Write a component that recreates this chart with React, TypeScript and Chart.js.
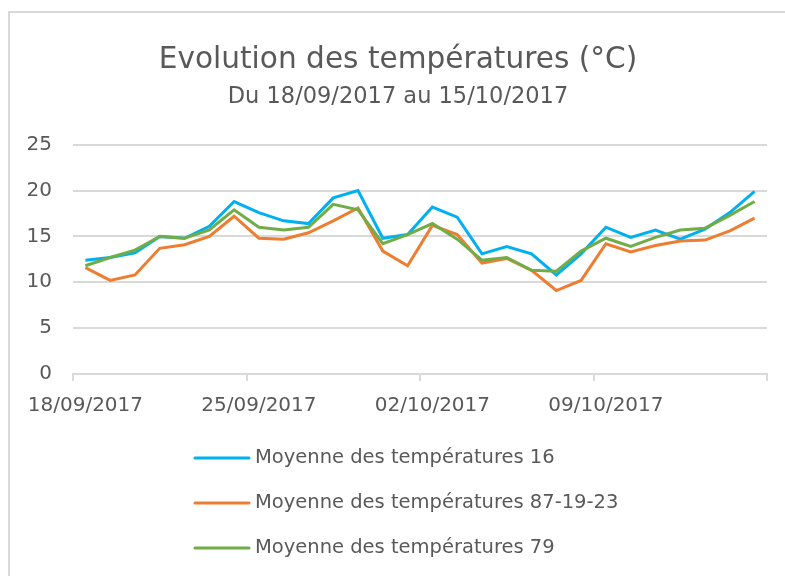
import React, { useEffect, useRef } from 'react';
import { Chart, registerables } from 'chart.js';

Chart.register(...registerables);

const dates = [
  '18/09/2017', '19/09/2017', '20/09/2017', '21/09/2017', '22/09/2017', '23/09/2017', '24/09/2017',
  '25/09/2017', '26/09/2017', '27/09/2017', '28/09/2017', '29/09/2017', '30/09/2017', '01/10/2017',
  '02/10/2017', '03/10/2017', '04/10/2017', '05/10/2017', '06/10/2017', '07/10/2017', '08/10/2017',
  '09/10/2017', '10/10/2017', '11/10/2017', '12/10/2017', '13/10/2017', '14/10/2017', '15/10/2017',
];

const seriesNames = [
  'Moyenne des températures 16',
  'Moyenne des températures 87-19-23',
  'Moyenne des températures 79',
];

const temp16 = [
  12.4, 12.7, 13.2, 15.0, 14.8, 16.1, 18.8, 17.6, 16.7, 16.4, 19.2, 20.0, 14.8, 15.2,
  18.2, 17.1, 13.1, 13.9, 13.1, 10.8, 13.1, 16.0, 14.9, 15.7, 14.7, 15.8, 17.6, 19.9,
];
const temp871923 = [
  11.6, 10.2, 10.8, 13.7, 14.1, 15.0, 17.2, 14.8, 14.7, 15.4, 16.7, 18.1, 13.4, 11.8,
  16.2, 15.2, 12.1, 12.6, 11.3, 9.1, 10.2, 14.2, 13.3, 14.0, 14.5, 14.6, 15.6, 17.0,
];
const temp79 = [
  11.8, 12.7, 13.5, 15.0, 14.8, 15.7, 17.9, 16.0, 15.7, 16.0, 18.5, 17.9, 14.2, 15.2,
  16.4, 14.7, 12.4, 12.7, 11.3, 11.2, 13.4, 14.8, 13.9, 14.9, 15.7, 15.9, 17.3, 18.8,
];

const yMin = 0;
const yMax = 25;
const yStep = 5;
const labelEvery = 7;

const seriesColors = ['#00B0F0', '#ED7D31', '#70AD47'];
const textColor = '#595959';
const gridColor = '#d9d9d9';
const FONT = 'DejaVu Sans';

const verticalLegend = {
  id: 'verticalLegend',
  afterDraw(chart: any) {
    const { ctx, chartArea } = chart;
    const x0 = chartArea.left + 122;
    const y0 = chartArea.bottom + 84;
    const rowGap = 45;
    ctx.save();
    ctx.font = `19.5px "${FONT}"`;
    ctx.textBaseline = 'middle';
    ctx.textAlign = 'left';
    chart.data.datasets.forEach((ds: any, i: number) => {
      const y = y0 + i * rowGap;
      ctx.strokeStyle = ds.borderColor;
      ctx.lineWidth = 3;
      ctx.lineCap = 'round';
      ctx.beginPath();
      ctx.moveTo(x0, y);
      ctx.lineTo(x0 + 54, y);
      ctx.stroke();
      ctx.fillStyle = textColor;
      ctx.fillText(ds.label, x0 + 60, y);
    });
    ctx.restore();
  },
};

export default function App() {
  const canvasRef = useRef<HTMLCanvasElement | null>(null);

  useEffect(() => {
    if (!canvasRef.current) return;
    Chart.defaults.font.family = FONT;
    Chart.defaults.color = textColor;
    const seriesData = [temp16, temp871923, temp79];
    const chart = new Chart(canvasRef.current, {
      type: 'line',
      data: {
        labels: dates,
        datasets: seriesData.map((d, i) => ({
          label: seriesNames[i],
          data: d,
          borderColor: seriesColors[i],
          backgroundColor: seriesColors[i],
          borderWidth: 3,
          pointRadius: 0,
          tension: 0,
          fill: false,
          order: 3 - i,
        })),
      },
      options: {
        animation: false,
        responsive: true,
        maintainAspectRatio: false,
        layout: { padding: { left: 10, right: 9, top: 35.5, bottom: 145 } },
        plugins: {
          legend: { display: false },
          tooltip: { enabled: false },
          title: {
            display: true,
            text: 'Evolution des températures (°C)',
            color: textColor,
            font: { size: 29.6, weight: 'normal', lineHeight: 0.8 },
            padding: { top: 0, bottom: 15.5 },
          },
          subtitle: {
            display: true,
            text: 'Du 18/09/2017 au 15/10/2017',
            color: textColor,
            font: { size: 22.5, weight: 'normal', lineHeight: 0.8 },
            padding: { top: 0, bottom: 39 },
          },
        },
        scales: {
          x: {
            type: 'category',
            offset: true,
            grid: {
              offset: true,
              drawOnChartArea: false,
              drawTicks: true,
              tickLength: 7,
              lineWidth: 2,
              color: (ctx: any) =>
                ctx.index === undefined || ctx.index % labelEvery === 0 ? gridColor : 'rgba(0,0,0,0)',
            },
            border: { display: true, color: gridColor, width: 2 },
            ticks: {
              autoSkip: false,
              maxRotation: 0,
              minRotation: 0,
              padding: 13,
              color: textColor,
              font: { size: 20 },
              callback: (_v: any, index: number) => (index % labelEvery === 0 ? dates[index] : ''),
            },
          },
          y: {
            min: yMin,
            max: yMax,
            ticks: { stepSize: yStep, padding: 21, color: textColor, font: { size: 20 } },
            grid: { color: gridColor, lineWidth: 2, drawTicks: false },
            border: { display: false },
            afterFit: (scale: any) => {
              scale.width = 53;
            },
          },
          yRight: {
            type: 'linear',
            position: 'right',
            display: true,
            grid: { display: false, drawTicks: false },
            border: { display: false },
            ticks: { display: false },
            afterFit: (scale: any) => {
              scale.width = 9;
            },
          },
        },
      },
      plugins: [verticalLegend],
    });
    return () => chart.destroy();
  }, []);

  return (
    <div
      style={{
        position: 'fixed',
        left: 8,
        top: 11,
        width: 777,
        height: 565,
        borderLeft: `2px solid ${gridColor}`,
        borderTop: `2px solid ${gridColor}`,
        background: '#fff',
      }}
    >
      <div style={{ position: 'relative', width: 775, height: 563 }}>
        <canvas ref={canvasRef} />
      </div>
    </div>
  );
}
